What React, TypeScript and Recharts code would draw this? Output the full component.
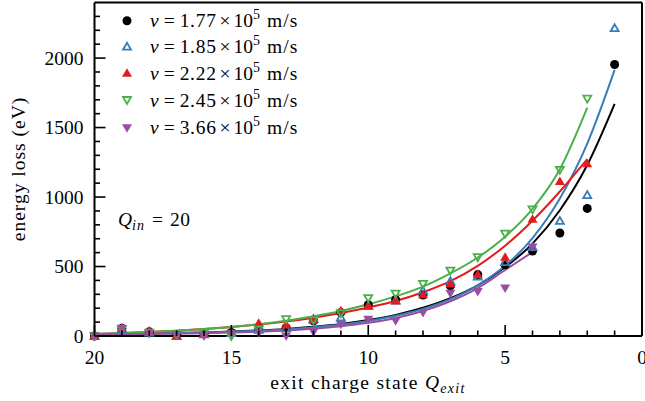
import { ComposedChart, Line, Scatter, XAxis, YAxis } from 'recharts';

// exit charge state Q_exit, ascending
const qExit = [1, 2, 3, 4, 5, 6, 7, 8, 9, 10, 11, 12, 13, 14, 15, 16, 17, 18, 19, 20];

// measured energy loss (eV) per Q_exit, null = not measured
const loss177 = [1954, 918, 741, 611, 512, 442, 362, 295, 262, 225, 170, 110, 60, 50, 25, 15, 5, 30, 55, 0];
const loss185 = [2215, 1014, 828, 640, 531, 428, 394, 326, 255, 215, 133, 121, 55, 45, 20, 12, 0, 25, 50, 0];
const loss222 = [null, 1239, 1111, 841, 567, 442, 375, 297, 252, 217, 181, 114, 80, 92, 29, 17, 0, 36, 56, 0];
const loss245 = [null, 1708, 1196, 911, 737, 567, 471, 375, 305, 273, 165, 114, 121, 48, 0, 20, 10, 25, 50, 0];
const loss366 = [null, null, null, 640, 346, 321, 307, 169, 109, 121, 85, 31, 0, 24, 20, 0, 10, 20, 56, 0];

// fitted curves
const fit177 = [1670, 1230, 905, 665, 495, 365, 272, 203, 152, 115, 86, 66, 51, 40, 32, 26, 21, 18, 15, 13];
const fit185 = [1915, 1385, 990, 705, 505, 365, 265, 195, 145, 108, 82, 63, 49, 38, 31, 25, 21, 18, 15, 13];
const fit222 = [null, 1273, 1040, 830, 650, 505, 395, 315, 252, 205, 165, 132, 105, 83, 65, 50, 38, 29, 21, 15];
const fit245 = [null, 1643, 1200, 915, 715, 565, 450, 355, 285, 228, 180, 142, 110, 85, 65, 50, 38, 29, 21, 15];
const fit366 = [null, null, null, 604, 475, 345, 250, 180, 130, 95, 70, 52, 40, 31, 25, 20, 17, 14, 12, 11];

const velocities = ['1.77', '1.85', '2.22', '2.45', '3.66'];

const xMajor = [0, 5, 10, 15, 20];
const xMinor = [1, 2, 3, 4, 6, 7, 8, 9, 11, 12, 13, 14, 16, 17, 18, 19];
const yMajor = [0, 500, 1000, 1500, 2000];
const yMinor = [
  100, 200, 300, 400, 600, 700, 800, 900, 1100, 1200, 1300, 1400,
  1600, 1700, 1800, 1900, 2100, 2200, 2300,
];

const X_DOMAIN = [0, 20];
const Y_DOMAIN = [0, 2400];

const W = 645;
const H = 401;
const LEFT = 94.5;
const TOP = 2.5;
const RIGHT = 642;
const BOTTOM = 336;
const FONT = "'Liberation Serif', 'Times New Roman', serif";

type Kind = 'circle' | 'upOpen' | 'upFilled' | 'downOpen' | 'downFilled';

const series: { v: string; color: string; kind: Kind; loss: (number | null)[]; fit: (number | null)[] }[] = [
  { v: velocities[0], color: '#000000', kind: 'circle', loss: loss177, fit: fit177 },
  { v: velocities[1], color: '#377eb8', kind: 'upOpen', loss: loss185, fit: fit185 },
  { v: velocities[2], color: '#e41a1c', kind: 'upFilled', loss: loss222, fit: fit222 },
  { v: velocities[3], color: '#4daf4a', kind: 'downOpen', loss: loss245, fit: fit245 },
  { v: velocities[4], color: '#984ea3', kind: 'downFilled', loss: loss366, fit: fit366 },
];

const toPoints = (vals: (number | null)[]) =>
  qExit.map((q, i) => ({ q, e: vals[i] })).filter((p) => p.e !== null);

// same mapping as the chart's plot box (x axis reversed)
const qToPx = (q: number) => LEFT + ((X_DOMAIN[1] - q) / (X_DOMAIN[1] - X_DOMAIN[0])) * (RIGHT - LEFT);
const eToPx = (e: number) => BOTTOM - ((e - Y_DOMAIN[0]) / (Y_DOMAIN[1] - Y_DOMAIN[0])) * (BOTTOM - TOP);

function Marker({ cx, cy, kind, color }: { cx?: number; cy?: number; kind: Kind; color: string }) {
  if (cx == null || cy == null || isNaN(cx) || isNaN(cy)) return null;
  switch (kind) {
    case 'circle':
      return <circle cx={cx} cy={cy} r={4.5} fill={color} />;
    case 'upOpen':
      return (
        <polygon
          points={`${cx},${cy - 4} ${cx - 4},${cy + 3} ${cx + 4},${cy + 3}`}
          fill="none"
          stroke={color}
          strokeWidth={1.8}
        />
      );
    case 'upFilled':
      return <polygon points={`${cx},${cy - 5} ${cx - 5},${cy + 3.5} ${cx + 5},${cy + 3.5}`} fill={color} />;
    case 'downOpen':
      return (
        <polygon
          points={`${cx},${cy + 4} ${cx - 4},${cy - 3} ${cx + 4},${cy - 3}`}
          fill="none"
          stroke={color}
          strokeWidth={1.8}
        />
      );
    case 'downFilled':
      return <polygon points={`${cx},${cy + 5} ${cx - 5},${cy - 3.5} ${cx + 5},${cy - 3.5}`} fill={color} />;
  }
  return null;
}

function XLabel({ x, payload }: any) {
  return (
    <text x={x} y={BOTTOM + 28} textAnchor="middle" fontSize={19.5} fontFamily={FONT} fill="#000">
      {payload.value}
    </text>
  );
}

function YLabel({ y, payload }: any) {
  return (
    <text x={LEFT - 11} y={y + 6.5} textAnchor="end" fontSize={19.5} fontFamily={FONT} fill="#000">
      {payload.value}
    </text>
  );
}

function Overlay() {
  const rows = [20.7, 46.7, 73.3, 100, 127.7];
  return (
    <svg width={W} height={H} style={{ position: 'absolute', left: 0, top: 0, pointerEvents: 'none' }}>
      {/* inward ticks */}
      <g stroke="#000" strokeWidth={1.6}>
        {xMajor.concat(xMinor).map((q) => (
          <line
            key={`xt-${q}`}
            x1={qToPx(q)}
            x2={qToPx(q)}
            y1={BOTTOM}
            y2={BOTTOM - (xMajor.includes(q) ? 11 : 5.5)}
          />
        ))}
        {yMajor.concat(yMinor).map((e) => (
          <line
            key={`yt-${e}`}
            x1={LEFT}
            x2={LEFT + (yMajor.includes(e) ? 11 : 5.5)}
            y1={eToPx(e)}
            y2={eToPx(e)}
          />
        ))}
      </g>
      {series.map((s, i) => (
        <g key={s.v}>
          <Marker cx={127} cy={rows[i]} kind={s.kind} color={s.color} />
          <text x={150} y={rows[i] + 6.5} fontSize={19.5} fontFamily={FONT} fill="#000">
            <tspan fontStyle="italic">v</tspan>
            <tspan dx={5}>=</tspan>
            <tspan dx={5} letterSpacing={0.7}>{s.v}</tspan>
            <tspan dx={3}>×</tspan>
            <tspan dx={3}>10</tspan>
            <tspan dy={-8} fontSize={14}>5</tspan>
            <tspan dy={8} dx={7} letterSpacing={1}>m/s</tspan>
          </text>
        </g>
      ))}
      <text x={118} y={226} fontSize={19.5} fontFamily={FONT} fill="#000">
        <tspan fontStyle="italic">Q</tspan>
        <tspan dy={4} fontSize={14} fontStyle="italic" letterSpacing={1}>in</tspan>
        <tspan dy={-4} dx={7}>=</tspan>
        <tspan dx={7} letterSpacing={0.5}>20</tspan>
      </text>
      <text x={368} y={389} textAnchor="middle" fontSize={19.5} fontFamily={FONT} fill="#000" letterSpacing={1.3}>
        <tspan>exit charge state </tspan>
        <tspan fontStyle="italic">Q</tspan>
        <tspan dy={4} fontSize={14} fontStyle="italic">exit</tspan>
      </text>
      <text
        x={0}
        y={0}
        transform="translate(25 169) rotate(-90)"
        textAnchor="middle"
        fontSize={19.5}
        fontFamily={FONT}
        fill="#000"
        letterSpacing={1}
      >
        energy loss (eV)
      </text>
    </svg>
  );
}

export default function App() {
  return (
    <div style={{ position: 'relative', width: W, height: H, background: '#fff' }}>
      <style>{'body{margin:0}'}</style>
      <ComposedChart
        width={W}
        height={H}
        margin={{ top: TOP - 1, right: W - RIGHT - 1, bottom: H - BOTTOM - 30, left: LEFT - 60 }}
      >
        <XAxis
          type="number"
          dataKey="q"
          domain={X_DOMAIN}
          reversed
          ticks={xMajor}
          interval={0}
          height={30}
          tickSize={0}
          tickLine={false}
          axisLine={{ stroke: '#000', strokeWidth: 2 }}
          tick={(p: any) => <XLabel {...p} />}
        />
        <XAxis
          xAxisId="top"
          orientation="top"
          type="number"
          domain={X_DOMAIN}
          height={1}
          tick={false}
          tickLine={false}
          axisLine={{ stroke: '#000', strokeWidth: 2 }}
        />
        <YAxis
          type="number"
          domain={Y_DOMAIN}
          ticks={yMajor}
          interval={0}
          width={60}
          tickSize={0}
          tickLine={false}
          axisLine={{ stroke: '#000', strokeWidth: 2 }}
          tick={(p: any) => <YLabel {...p} />}
        />
        <YAxis
          yAxisId="right"
          orientation="right"
          type="number"
          domain={Y_DOMAIN}
          width={1}
          tick={false}
          tickLine={false}
          axisLine={{ stroke: '#000', strokeWidth: 2 }}
        />
        {series.map((s) => (
          <Line
            key={`fit-${s.v}`}
            data={toPoints(s.fit)}
            dataKey="e"
            type="monotone"
            stroke={s.color}
            strokeWidth={2}
            dot={false}
            activeDot={false}
            isAnimationActive={false}
          />
        ))}
        {series.map((s) => (
          <Scatter
            key={`pts-${s.v}`}
            data={toPoints(s.loss)}
            dataKey="e"
            isAnimationActive={false}
            shape={(p: any) => <Marker cx={p.cx} cy={p.cy} kind={s.kind} color={s.color} />}
          />
        ))}
      </ComposedChart>
      <Overlay />
    </div>
  );
}
